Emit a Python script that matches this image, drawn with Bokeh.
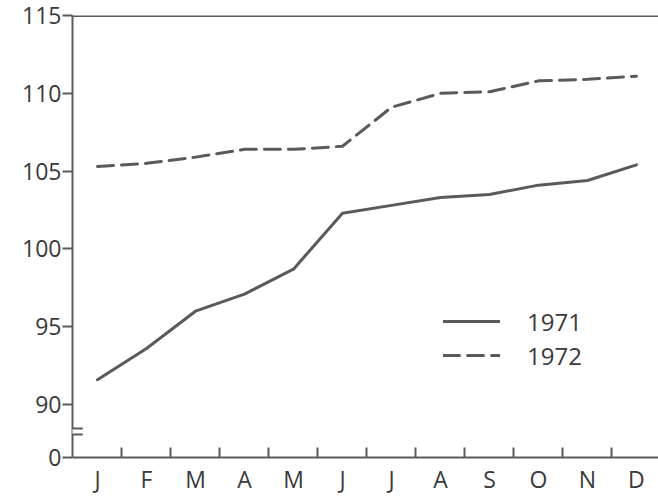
from bokeh.plotting import figure
from bokeh.models import FixedTicker, Legend, LegendItem, Span, Arrow, Range1d
from bokeh.embed import file_html
from bokeh.resources import INLINE

MONTHS = ["J", "F", "M", "A", "M", "J", "J", "A", "S", "O", "N", "D"]
Y1971 = [91.6, 93.6, 96.0, 97.1, 98.7, 102.3, 102.8, 103.3, 103.5, 104.1, 104.4, 105.4]
Y1972 = [105.3, 105.5, 105.9, 106.4, 106.4, 106.6, 109.1, 110.0, 110.1, 110.8, 110.9, 111.1]
Y_TICKS = [90, 95, 100, 105, 110, 115]
Y_ZERO = 86.6          # axis position standing for "0" below the break
Y_BREAK = (88.08, 88.46)

INK = "#5a5a5a"
TXT = "#3a3a3a"
FONT = "Open Sans"

x = list(range(len(MONTHS)))

p = figure(width=658, height=497, output_backend="svg", toolbar_location=None,
           x_range=Range1d(-0.51, 11.45), y_range=Range1d(Y_ZERO, 115),
           min_border_left=72, min_border_top=15, min_border_right=0, min_border_bottom=39)
p.grid.visible = False
p.outline_line_color = None
p.background_fill_color = "white"
p.border_fill_color = "white"

r71 = p.line(x, Y1971, line_color=INK, line_width=3, line_cap="round", line_join="round")
r72 = p.line(x, Y1972, line_color=INK, line_width=3, line_cap="round", line_join="round",
             line_dash="16 8")

# x axis
xa = p.xaxis[0]
xa.ticker = FixedTicker(ticks=x, minor_ticks=[i + 0.5 for i in x[:-1]])
xa.major_label_overrides = {i: m for i, m in zip(x, MONTHS)}
xa.major_tick_in = 0
xa.major_tick_out = 0
xa.minor_tick_in = 10
xa.minor_tick_out = 0
xa.minor_tick_line_color = INK
xa.minor_tick_line_width = 2
xa.axis_line_color = INK
xa.axis_line_width = 2
xa.major_label_standoff = 5
xa.major_label_text_font = FONT
xa.major_label_text_font_size = "23px"
xa.major_label_text_color = TXT

# y axis
ya = p.yaxis[0]
ya.ticker = FixedTicker(ticks=[Y_ZERO] + Y_TICKS, minor_ticks=[])
ya.major_label_overrides = {Y_ZERO: "0"}
ya.major_tick_in = 0
ya.major_tick_out = 10
ya.major_tick_line_color = INK
ya.major_tick_line_width = 2
ya.axis_line_color = INK
ya.axis_line_width = 2
ya.major_label_standoff = 1
ya.major_label_text_font = FONT
ya.major_label_text_font_size = "23px"
ya.major_label_text_color = TXT

# top frame line
p.add_layout(Span(location=115, dimension="width", line_color=INK, line_width=3))

# axis break: white gap and two short marks
p.add_layout(Arrow(end=None, x_start=-0.51, x_end=-0.51, y_start=Y_BREAK[0] + 0.03,
                   y_end=Y_BREAK[1] - 0.03, line_color="white", line_width=6))
for yb in Y_BREAK:
    p.add_layout(Arrow(end=None, x_start=-0.72, x_end=-0.30, y_start=yb, y_end=yb,
                       line_color=INK, line_width=2))

legend = Legend(items=[LegendItem(label="1971", renderers=[r71]),
                       LegendItem(label="1972", renderers=[r72])],
                location=(371, 85), glyph_width=57, glyph_height=34, label_height=34,
                label_standoff=27, spacing=0, padding=0, margin=0,
                border_line_color=None, background_fill_alpha=0,
                label_text_font=FONT, label_text_font_size="24px", label_text_color=TXT)
p.add_layout(legend)

open("out.html", "w").write(file_html(p, INLINE))
